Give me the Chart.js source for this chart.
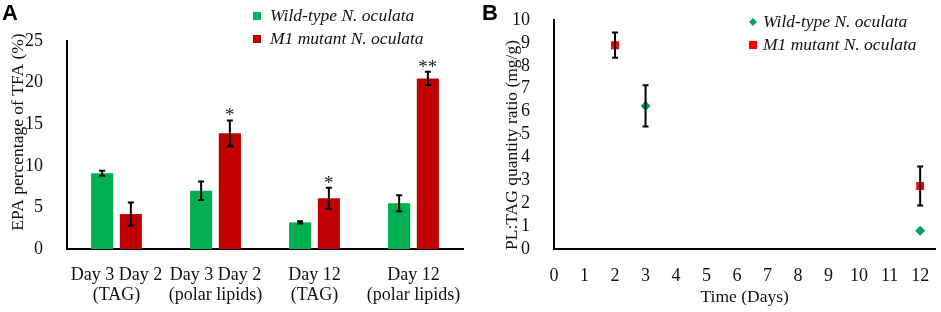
<!DOCTYPE html>
<html>
<head>
<meta charset="utf-8">
<script src="https://cdn.jsdelivr.net/npm/chart.js@4.4.1/dist/chart.umd.min.js"></script>
<style>
  body { margin: 0; background: #fff; }
  #wrap { position: relative; width: 941px; height: 312px; }
  #chartA { position: absolute; left: 0; top: 0; }
  #chartB { position: absolute; left: 470px; top: 0; }
</style>
</head>
<body>
<div id="wrap">
  <canvas id="chartA" width="470" height="312"></canvas>
  <canvas id="chartB" width="471" height="312"></canvas>
</div>

<script>
// panel A - EPA % of TFA
const categoriesA = [['Day 3 Day 2', '(TAG)'], ['Day 3 Day 2', '(polar lipids)'], ['Day 12', '(TAG)'], ['Day 12', '(polar lipids)']];
const yTicksA = [0, 5, 10, 15, 20, 25];
const wildEPA = [9.1, 7.0, 3.2, 5.5];
const wildEPAErr = [0.3, 1.1, 0.15, 0.95];
const mutantEPA = [4.2, 13.9, 6.1, 20.5];
const mutantEPAErr = [1.4, 1.55, 1.25, 0.8];
const mutantStars = ['', '*', '*', '**'];

// panel B - PL:TAG ratio
const xTicksB = [0, 1, 2, 3, 4, 5, 6, 7, 8, 9, 10, 11, 12];
const yTicksB = [0, 1, 2, 3, 4, 5, 6, 7, 8, 9, 10];
const wildDays = [3, 12];
const wildRatio = [6.25, 0.8];
const wildRatioErr = [0.9, 0];
const mutantDays = [2, 12];
const mutantRatio = [8.9, 2.75];
const mutantRatioErr = [0.55, 0.85];

const labelWild = 'Wild-type N. oculata';
const labelMutant = 'M1 mutant N. oculata';

const SERIF = '"Liberation Serif", "Times New Roman", serif';
const SANS = '"Liberation Sans", Arial, sans-serif';
const FS = 18;

// error bars + significance stars
const errorBars = {
  id: 'errorBars',
  afterDatasetsDraw(chart) {
    const ctx = chart.ctx;
    const y = chart.scales.y;
    chart.data.datasets.forEach((ds, i) => {
      if (!ds.errors) return;
      const meta = chart.getDatasetMeta(i);
      meta.data.forEach((el, j) => {
        const raw = ds.data[j];
        const v = typeof raw === 'object' ? raw.y : raw;
        const e = ds.errors[j];
        const top = y.getPixelForValue(v + e);
        const bot = y.getPixelForValue(v - e);
        ctx.save();
        if (e > 0) {
          ctx.strokeStyle = '#000';
          ctx.lineWidth = 2;
          ctx.beginPath();
          ctx.moveTo(el.x, top); ctx.lineTo(el.x, bot);
          ctx.moveTo(el.x - 3, top); ctx.lineTo(el.x + 3, top);
          ctx.moveTo(el.x - 3, bot); ctx.lineTo(el.x + 3, bot);
          ctx.stroke();
        }
        if (ds.stars && ds.stars[j]) {
          ctx.fillStyle = '#222';
          ctx.font = '19px ' + SERIF;
          ctx.textAlign = 'center';
          ctx.textBaseline = 'alphabetic';
          ctx.fillText(ds.stars[j], el.x, top + 1);
        }
        ctx.restore();
      });
    });
  }
};

// panel letter, y title and legend drawn at fixed spots
function panelDecor(letter, lx, yTitle, rows) {
  return {
    id: 'decor' + letter,
    afterDraw(chart) {
      const ctx = chart.ctx;
      ctx.save();
      ctx.fillStyle = '#000';
      ctx.font = 'bold 22px ' + SANS;
      ctx.textBaseline = 'alphabetic';
      ctx.fillText(letter, lx, 20);

      ctx.save();
      ctx.translate(yTitle.x, yTitle.y);
      ctx.rotate(-Math.PI / 2);
      ctx.fillStyle = '#111';
      ctx.font = '17.5px ' + SERIF;
      ctx.textAlign = 'center';
      ctx.textBaseline = 'middle';
      ctx.fillText(yTitle.text, 0, 0);
      ctx.restore();

      ctx.font = 'italic 17.5px ' + SERIF;
      ctx.textBaseline = 'middle';
      rows.forEach(r => {
        ctx.fillStyle = r.color;
        if (r.shape === 'diamond') {
          ctx.beginPath();
          ctx.moveTo(r.x, r.y - 4); ctx.lineTo(r.x + 4, r.y);
          ctx.lineTo(r.x, r.y + 4); ctx.lineTo(r.x - 4, r.y);
          ctx.closePath(); ctx.fill();
        } else {
          ctx.fillRect(r.x - 4, r.y - 4, 8, 8);
        }
        ctx.fillStyle = '#111';
        ctx.fillText(r.text, r.tx, r.y);
      });
      ctx.restore();
    }
  };
}

function noPadX(s) { s.height = 63; s.paddingLeft = 0; s.paddingRight = 0; }

new Chart(document.getElementById('chartA'), {
  type: 'bar',
  data: {
    labels: categoriesA,
    datasets: [
      { label: labelWild, data: wildEPA, errors: wildEPAErr, backgroundColor: '#00b050',
        categoryPercentage: 0.58, barPercentage: 0.77 },
      { label: labelMutant, data: mutantEPA, errors: mutantEPAErr, stars: mutantStars, backgroundColor: '#c00000',
        categoryPercentage: 0.58, barPercentage: 0.77 }
    ]
  },
  options: {
    responsive: false,
    animation: false,
    layout: { padding: { top: 41, right: 7, left: 0, bottom: 0 } },
    plugins: { legend: { display: false }, tooltip: { enabled: false } },
    scales: {
      x: {
        grid: { display: false },
        border: { color: '#000', width: 2 },
        ticks: { color: '#111', font: { family: SERIF, size: FS, lineHeight: 1.12 }, padding: 8, maxRotation: 0, autoSkip: false },
        afterFit: noPadX
      },
      y: {
        min: 0, max: 25,
        grid: { display: false },
        border: { color: '#000', width: 2 },
        ticks: { color: '#111', font: { family: SERIF, size: FS }, padding: 16, autoSkip: false },
        afterBuildTicks: s => { s.ticks = yTicksA.map(v => ({ value: v })); },
        afterFit: s => { s.width = 67; s.paddingTop = 0; s.paddingBottom = 0; }
      }
    }
  },
  plugins: [errorBars, panelDecor('A', 2, { text: 'EPA percentage of TFA (%)', x: 18, y: 132 }, [
    { shape: 'square', color: '#00b050', x: 257, y: 16, tx: 270, text: labelWild },
    { shape: 'square', color: '#c00000', x: 257, y: 39, tx: 270, text: labelMutant }
  ])]
});

new Chart(document.getElementById('chartB'), {
  type: 'scatter',
  data: {
    datasets: [
      { label: labelWild, data: wildDays.map((d, i) => ({ x: d, y: wildRatio[i] })), errors: wildRatioErr,
        pointStyle: 'rectRot', pointRadius: 5, backgroundColor: '#00a25a', borderColor: '#00a25a', borderWidth: 0 },
      { label: labelMutant, data: mutantDays.map((d, i) => ({ x: d, y: mutantRatio[i] })), errors: mutantRatioErr,
        pointStyle: 'rect', pointRadius: 5.6, backgroundColor: '#ff0000', borderColor: '#ff0000', borderWidth: 0 }
    ]
  },
  options: {
    responsive: false,
    animation: false,
    layout: { padding: { top: 20, right: 0, left: 0, bottom: 0 } },
    plugins: { legend: { display: false }, tooltip: { enabled: false } },
    scales: {
      x: {
        type: 'linear', min: 0, max: 12.5,
        grid: { display: false },
        border: { color: '#000', width: 2 },
        ticks: { color: '#111', font: { family: SERIF, size: FS }, padding: 8, maxRotation: 0, autoSkip: false },
        afterBuildTicks: s => { s.ticks = xTicksB.map(v => ({ value: v })); },
        title: { display: true, text: 'Time (Days)', color: '#111', font: { family: SERIF, size: 17.5 }, padding: { top: 0, bottom: 4 } },
        afterFit: noPadX
      },
      y: {
        min: 0, max: 10,
        grid: { display: false },
        border: { color: '#000', width: 2 },
        ticks: { color: '#111', font: { family: SERIF, size: FS }, padding: 16, autoSkip: false },
        afterBuildTicks: s => { s.ticks = yTicksB.map(v => ({ value: v })); },
        afterFit: s => { s.width = 84; s.paddingTop = 0; s.paddingBottom = 0; }
      }
    }
  },
  plugins: [errorBars, panelDecor('B', 12, { text: 'PL:TAG quantity ratio (mg/g)', x: 42, y: 145 }, [
    { shape: 'diamond', color: '#00a25a', x: 283, y: 22, tx: 293, text: labelWild },
    { shape: 'square', color: '#ff0000', x: 283, y: 45, tx: 293, text: labelMutant }
  ])]
});
</script>
</body>
</html>
